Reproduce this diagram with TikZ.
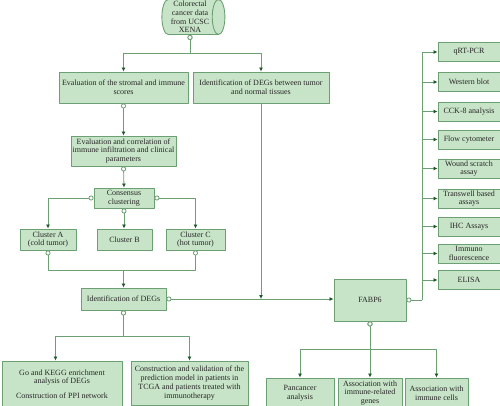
\documentclass[tikz,border=0pt]{standalone}
\usepackage{fontspec}
\setmainfont{Liberation Serif}
\usetikzlibrary{shapes.geometric,arrows.meta}
\definecolor{boxfill}{RGB}{200,228,200}
\definecolor{boxline}{RGB}{108,160,115}
\definecolor{tipgreen}{RGB}{28,88,40}
\begin{document}
\begin{tikzpicture}[x=1pt, y=-1pt, font=\fontsize{8}{8.7}\selectfont, line join=round,
 box/.style={draw=boxline, fill=boxfill, line width=.9pt, align=center, inner sep=1pt, text=black!85},
 cyl/.style={box, shape=cylinder, aspect=.4, minimum height=63, minimum width=35, inner sep=0pt},
 link/.style={draw=boxline, line width=.8pt},
 tip/.style={-{Latex[length=4pt,width=4pt,color=tipgreen]}},
 ring/.style={{Circle[open,length=5pt,width=5pt,fill=white]}-{Latex[length=4pt,width=4pt,color=tipgreen]}},
 ringonly/.style={{Circle[open,length=5pt,width=5pt,fill=white]}-}]
\useasboundingbox (0,0) rectangle (500,406);
% left column
\node[cyl] (src) at (190,17) {Colorectal\\cancer data\\from UCSC\\XENA};
\node[box, minimum width=129, minimum height=31] (sc) at (123.5,87.5) {Evaluation of the stromal and immune\\scores};
\node[box, minimum width=136, minimum height=31] (dg) at (261,87.5) {Identification of DEGs between tumor\\and normal tissues};
\node[box, minimum width=105, minimum height=30] (ic) at (123.5,151) {Evaluation and correlation of\\immune infiltration and clinical\\parameters};
\node[box, minimum width=60, minimum height=20] (cc) at (124,198) {Consensus\\clustering};
\node[box, minimum width=56, minimum height=21] (cla) at (48,239.5) {Cluster A\\(cold tumor)};
\node[box, minimum width=55, minimum height=21] (clb) at (124.5,239.5) {Cluster B};
\node[box, minimum width=59, minimum height=21] (clc) at (195.5,239.5) {Cluster C\\(hot tumor)};
\node[box, minimum width=85, minimum height=22] (deg) at (123.5,299) {Identification of DEGs};
\node[box, minimum width=120, minimum height=46] (go) at (62,384) {Go and KEGG enrichment\\analysis of DEGs\\[6pt]Construction of PPI network};
\node[box, minimum width=117, minimum height=44] (pm) at (189.5,383) {Construction and validation of the\\prediction model in patients in\\TCGA and patients treated with\\immunotherapy};
% FABP6 and its branches
\node[box, minimum width=72, minimum height=42] (fab) at (370,300) {FABP6};
\foreach \t/\y [count=\i] in {qRT-PCR/52, Western blot/82, CCK-8 analysis/111.5, Flow cytometer/139.5, {Wound scratch\\assay}/168.5, {Transwell based\\assays}/198.5, IHC Assays/226.5, {Immuno\\fluorescence}/253.5, ELISA/280}
  \node[box, minimum width=62, minimum height=19] (r\i) at (469,\y) {\t};
\node[box, minimum width=68, minimum height=30] (pan) at (300,393) {Pancancer\\analysis};
\node[box, minimum width=64, minimum height=30] (gen) at (370,393) {Association with\\immune-related\\genes};
\node[box, minimum width=63, minimum height=30] (cel) at (436.5,393) {Association with\\immune cells};
% connectors
\draw[link,ring] (src.south) -- ++(0,18) -| (sc.north);
\draw[link,ring] (src.south) -- ++(0,18) -| (dg.north);
\draw[link,ring] (sc.south) -- (ic.north);
\draw[link,ring] (ic.south) -- (cc.north);
\draw[link,ring] (cc.west) -| (cla.north);
\draw[link,ring] (cc.south) -- (cc.south |- clb.north);
\draw[link,ring] (cc.east) -| (clc.north);
\coordinate (m1) at (123.5,270);
\draw[link,ringonly] (cla.south) |- (m1);
\draw[link,ringonly] (clc.south) |- (m1);
\draw[link,tip] (m1) -- (deg.north);
\draw[link,ring] (deg.east) -- (deg.east -| fab.west);
\draw[link,tip] (dg.south) -- (dg.south |- deg.east);
\coordinate (m2) at (123.5,336);
\draw[link,ring] (deg.south) -- (m2) -| ([xshift=-6.5]go.north);
\draw[link,ring] (deg.south) -- (m2) -| (pm.north);
\coordinate (m3) at (422,300);
\draw[link,ringonly] (fab.east) -- (m3);
\draw[link] (m3) -- (m3 |- r1.west);
\foreach \i in {1,...,9}
  \draw[link,tip] (m3 |- r\i.west) -- (r\i.west);
\coordinate (m4) at (370,349);
\draw[link,ring] (fab.south) -- (m4) -| (pan.north);
\draw[link,ring] (fab.south) -- (gen.north);
\draw[link,ring] (fab.south) -- (m4) -| (cel.north);
\end{tikzpicture}
\end{document}
